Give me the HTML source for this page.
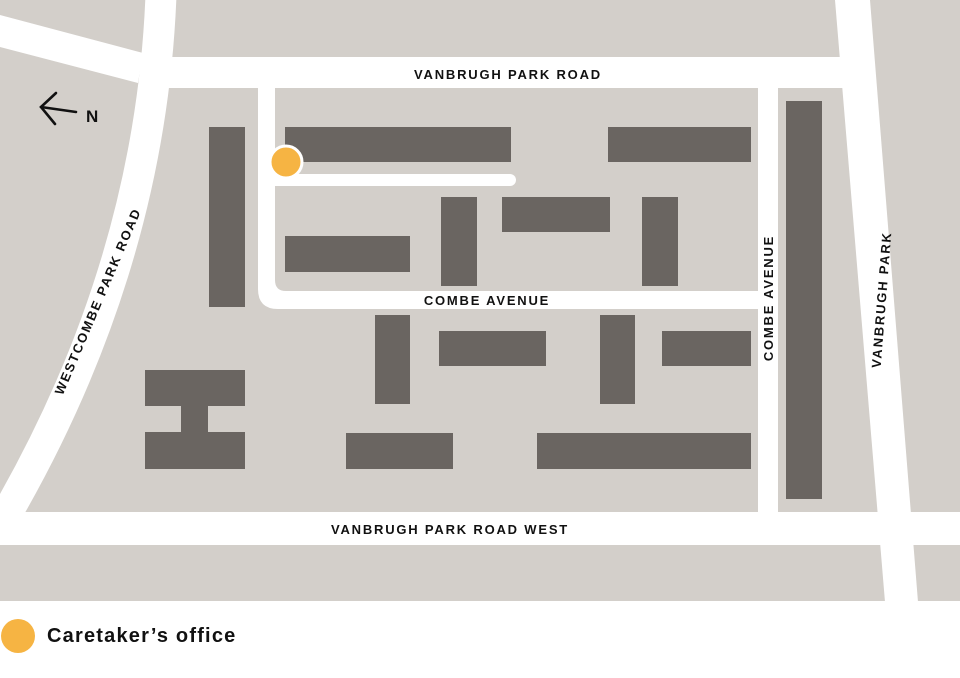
<!DOCTYPE html>
<html><head><meta charset="utf-8"><style>
html,body{margin:0;padding:0;background:#fff;}
svg{display:block}
text{font-family:"Liberation Sans",sans-serif;fill:#111;}
.r{font-size:13px;letter-spacing:1.8px;font-weight:bold;}
</style></head><body>
<svg width="960" height="678" viewBox="0 0 960 678" xmlns="http://www.w3.org/2000/svg">
<rect x="0" y="0" width="960" height="601" fill="#d3cfca"/>
<g fill="#fff" stroke="none">
  <polygon points="0,15 143,53 138,83 0,47"/>
  <rect x="140" y="57" width="710" height="31"/>
  <polygon points="835,0 870,0 918,602 885,602"/>
  <rect x="0" y="512" width="960" height="33"/>
  <rect x="758" y="88" width="20" height="425"/>
  <path d="M258,88 H275 V280 Q275,291 286,291 H758 V309 H278 Q258,309 258,289 Z"/>
  <path d="M275,174 H510 A6,6 0 0 1 510,186 H275 Z"/>
</g>
<path d="M161,-5 C155,150 115,330 0,525" stroke="#fff" stroke-width="31" fill="none"/>
<g fill="#6a6561">
  <rect x="209" y="127" width="36" height="180"/>
  <rect x="285" y="127" width="226" height="35"/>
  <rect x="608" y="127" width="143" height="35"/>
  <rect x="441" y="197" width="36" height="89"/>
  <rect x="502" y="197" width="108" height="35"/>
  <rect x="642" y="197" width="36" height="89"/>
  <rect x="285" y="236" width="125" height="36"/>
  <rect x="375" y="315" width="35" height="89"/>
  <rect x="439" y="331" width="107" height="35"/>
  <rect x="600" y="315" width="35" height="89"/>
  <rect x="662" y="331" width="89" height="35"/>
  <rect x="346" y="433" width="107" height="36"/>
  <rect x="537" y="433" width="214" height="36"/>
  <rect x="786" y="101" width="36" height="398"/>
  <rect x="145" y="370" width="100" height="36"/>
  <rect x="181" y="405" width="27" height="28"/>
  <rect x="145" y="432" width="100" height="37"/>
</g>
<circle cx="286" cy="162" r="16" fill="#f6b443" stroke="#fff" stroke-width="3"/>
<g stroke="#111" stroke-width="2.6" fill="none" stroke-linecap="round">
  <line x1="41" y1="107" x2="76" y2="112"/>
  <polyline points="56,93 41,107 55,124"/>
</g>
<text x="86" y="122" style="font-size:17px;font-weight:bold">N</text>
<text class="r" x="508" y="79" text-anchor="middle">VANBRUGH PARK ROAD</text>
<text class="r" x="487" y="305" text-anchor="middle">COMBE AVENUE</text>
<text class="r" x="450" y="534" text-anchor="middle">VANBRUGH PARK ROAD WEST</text>
<text class="r" transform="translate(773,298) rotate(-90)" text-anchor="middle">COMBE AVENUE</text>
<text class="r" transform="translate(886,300) rotate(-85.5)" text-anchor="middle">VANBRUGH PARK</text>
<text class="r" transform="translate(102,303) rotate(-67)" text-anchor="middle">WESTCOMBE PARK ROAD</text>
<circle cx="18" cy="636" r="17" fill="#f6b443"/>
<text x="47" y="642" style="font-size:20px;font-weight:bold;letter-spacing:1.2px">Caretaker’s office</text>
</svg>
</body></html>
